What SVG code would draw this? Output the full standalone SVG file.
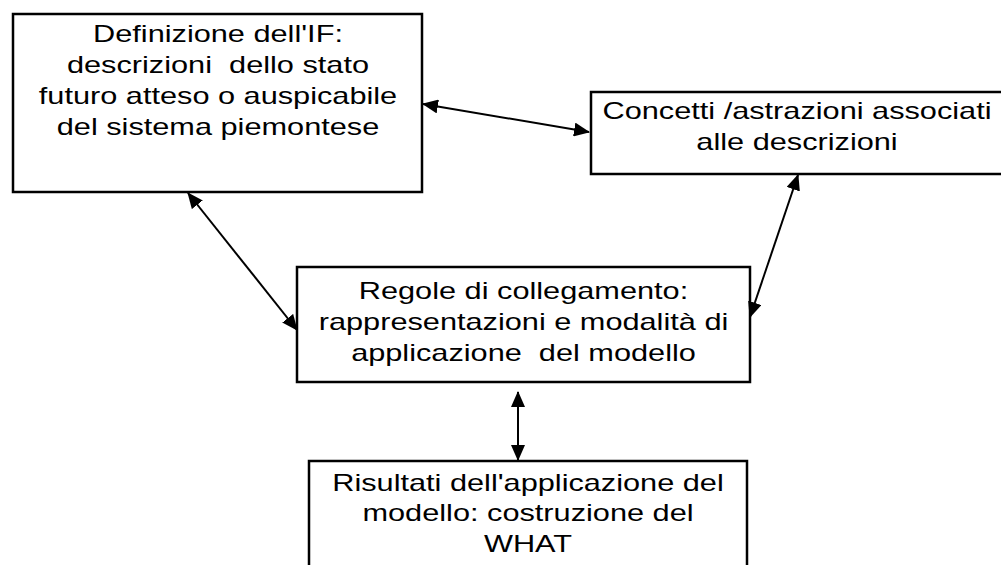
<svg xmlns="http://www.w3.org/2000/svg" width="1001" height="565" viewBox="0 0 1001 565">
<style>
.box{fill:#fff;stroke:#000;stroke-width:2.5}
.lbl{font-family:"Liberation Sans",Arial,sans-serif;font-size:24px;fill:#000;text-anchor:middle}
.conn{stroke:#000;stroke-width:2;fill:none;marker-start:url(#ah);marker-end:url(#ah)}
</style>
<defs>
<marker id="ah" viewBox="0 0 16 14" refX="15" refY="7" markerWidth="16" markerHeight="14" markerUnits="userSpaceOnUse" orient="auto-start-reverse">
<path d="M0,0 L16,7 L0,14 z" fill="#000"/>
</marker>
</defs>
<rect width="1001" height="565" fill="#fff"/>
<g id="node-definizione">
<rect class="box" x="13" y="14" width="409" height="178"/>
<text class="lbl" transform="translate(218,0) scale(1.28,1)"><tspan x="0" y="42">Definizione dell'IF:</tspan><tspan x="0" y="73" xml:space="preserve">descrizioni  dello stato</tspan><tspan x="0" y="104">futuro atteso o auspicabile</tspan><tspan x="0" y="135">del sistema piemontese</tspan></text>
</g>
<g id="node-concetti">
<rect class="box" x="591" y="92" width="412" height="82"/>
<text class="lbl" transform="translate(797,0) scale(1.28,1)"><tspan x="0" y="119">Concetti /astrazioni associati</tspan><tspan x="0" y="150">alle descrizioni</tspan></text>
</g>
<g id="node-regole">
<rect class="box" x="297" y="267" width="453" height="115"/>
<text class="lbl" transform="translate(523.5,0) scale(1.28,1)"><tspan x="0" y="299">Regole di collegamento:</tspan><tspan x="0" y="330">rappresentazioni e modalità di</tspan><tspan x="0" y="361" xml:space="preserve">applicazione  del modello</tspan></text>
</g>
<g id="node-risultati">
<rect class="box" x="309" y="461" width="438" height="120"/>
<text class="lbl" transform="translate(528,0) scale(1.28,1)"><tspan x="0" y="491">Risultati dell'applicazione del</tspan><tspan x="0" y="521">modello: costruzione del</tspan><tspan x="0" y="552">WHAT</tspan></text>
</g>
<g id="connectors">
<line class="conn" x1="423" y1="104" x2="589" y2="132"/>
<line class="conn" x1="188" y1="193" x2="297" y2="330"/>
<line class="conn" x1="798" y1="175" x2="750" y2="317"/>
<line class="conn" x1="518" y1="392" x2="518" y2="460"/>
</g>
</svg>
